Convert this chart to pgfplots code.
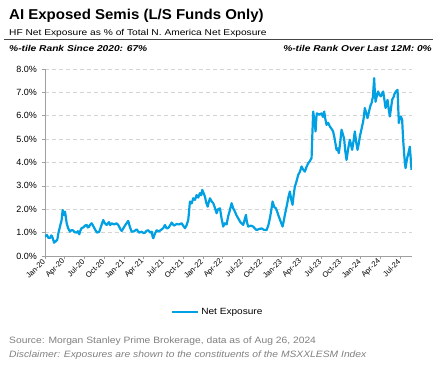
\documentclass[border=0pt]{standalone}
\usepackage{fontspec}
\setmainfont{Liberation Sans}
\newfontfamily\wideA[FakeStretch=1.2]{Liberation Sans}
\newfontfamily\wideB[FakeStretch=1.12]{Liberation Sans}
\newfontfamily\wideT[FakeStretch=1.05]{Liberation Sans}
\usepackage{pgfplots}
\pgfplotsset{compat=1.18}
\definecolor{netblue}{RGB}{0,160,227}
\definecolor{gridgray}{RGB}{212,212,212}
\definecolor{axisgray}{RGB}{160,160,160}
\definecolor{srcgray}{RGB}{128,128,128}
\definecolor{rulegray}{RGB}{70,70,70}

\pgfplotstableread{
m v
0.00 0.83
0.30 0.90
0.50 0.78
0.76 0.77
0.95 0.88
1.06 0.85
1.25 0.70
1.37 0.57
1.60 0.62
1.87 0.70
2.05 1.00
2.28 1.26
2.40 1.40
2.51 1.50
2.60 1.75
2.69 1.97
2.80 1.80
2.89 1.75
3.04 1.90
3.15 1.70
3.30 1.40
3.50 1.20
3.80 1.04
4.00 1.10
4.26 1.10
4.50 1.02
4.82 1.00
5.00 1.06
5.21 0.93
5.40 1.10
5.58 1.20
5.80 1.22
5.93 1.25
6.10 1.30
6.34 1.33
6.50 1.22
6.69 1.25
6.90 1.35
7.10 1.40
7.30 1.30
7.60 1.14
7.90 1.00
8.25 1.04
8.50 1.25
8.86 1.54
9.10 1.40
9.38 1.33
9.55 1.40
9.73 1.45
9.90 1.32
10.14 1.40
10.50 1.35
10.90 1.40
11.20 1.30
11.45 1.15
11.66 1.07
11.90 1.18
12.16 1.30
12.40 1.40
12.66 1.50
12.90 1.25
13.18 1.04
13.50 1.05
13.94 1.14
14.30 1.00
14.70 1.04
15.00 0.98
15.20 1.00
15.45 1.08
15.70 1.10
16.00 1.00
16.22 1.04
16.35 0.85
16.46 0.76
16.70 0.95
16.98 1.10
17.30 1.05
17.74 1.14
18.00 1.20
18.24 1.33
18.50 1.18
18.74 1.20
19.00 1.30
19.26 1.43
19.60 1.30
20.02 1.37
20.40 1.35
20.78 1.40
21.00 1.30
21.28 1.19
21.50 1.30
21.78 1.54
21.90 1.90
22.04 2.33
22.30 2.25
22.54 2.47
22.80 2.40
23.05 2.61
23.30 2.50
23.56 2.69
23.75 2.60
23.91 2.83
24.10 2.70
24.32 2.54
24.50 2.30
24.73 2.11
24.90 2.30
25.08 2.47
25.30 2.35
25.58 2.26
25.85 2.05
26.09 1.83
26.30 2.00
26.60 2.04
26.85 1.60
27.10 1.26
27.35 1.40
27.61 1.35
27.85 1.70
28.12 1.97
28.37 2.26
28.60 2.05
28.88 1.90
29.10 1.75
29.38 1.61
29.70 1.45
30.14 1.33
30.35 1.55
30.55 1.76
30.70 1.45
30.90 1.26
31.30 1.30
31.66 1.26
31.90 1.18
32.17 1.11
32.50 1.15
32.93 1.18
33.30 1.12
33.69 1.11
33.95 1.30
34.19 1.61
34.40 1.95
34.60 2.33
34.85 2.10
35.11 2.04
35.30 1.90
35.46 1.76
35.80 1.50
36.12 1.26
36.30 1.50
36.47 1.76
36.80 2.20
37.00 2.50
37.23 2.76
37.45 2.40
37.64 2.19
37.80 2.60
37.99 2.97
38.25 3.20
38.50 3.47
38.75 3.60
39.01 3.83
39.25 3.70
39.51 3.61
39.75 3.80
40.01 3.97
40.25 4.05
40.53 4.19
40.65 5.20
40.78 6.18
40.95 5.80
41.14 5.33
41.25 5.90
41.34 6.10
41.70 6.05
42.05 6.10
42.25 5.95
42.45 6.18
42.60 5.90
42.81 5.61
43.05 5.70
43.31 5.54
43.55 5.45
43.81 5.33
44.05 5.00
44.33 4.54
44.50 4.60
44.68 4.40
44.90 4.90
45.09 5.40
45.30 5.20
45.49 5.00
45.65 4.50
45.85 4.11
46.10 4.60
46.35 4.97
46.50 4.80
46.70 4.54
46.90 4.90
47.11 5.33
47.30 4.90
47.52 4.54
47.70 4.80
47.87 5.11
48.10 5.40
48.37 5.75
48.50 6.00
48.63 6.33
48.85 6.10
49.04 5.90
49.20 6.10
49.39 6.33
49.50 6.45
49.65 6.54
49.85 6.80
50.05 7.61
50.15 7.00
50.26 6.60
50.45 6.85
50.65 7.04
50.85 6.90
51.06 6.83
51.25 6.95
51.41 7.04
51.60 6.70
51.78 6.33
51.95 6.50
52.08 6.68
52.25 6.30
52.43 5.97
52.60 6.30
52.78 6.68
53.00 6.80
53.19 6.97
53.40 7.05
53.60 7.11
53.70 6.40
53.80 5.69
53.95 5.90
54.10 5.97
54.20 5.90
54.30 5.83
54.45 5.00
54.60 4.40
54.72 4.00
54.82 3.76
54.95 4.00
55.12 4.25
55.30 4.45
55.47 4.68
55.60 4.20
55.73 3.68
}\netexp

\begin{document}
\begin{tikzpicture}
\path[use as bounding box] (0pt,0pt) rectangle (440pt,-368pt);
% header
\node[anchor=base west, inner sep=0, font=\wideT\fontsize{14.3}{16}\selectfont\bfseries] at (9pt,-19.3pt) {AI Exposed Semis (L/S Funds Only)};
\node[anchor=base west, inner sep=0, font=\wideA\fontsize{8.5}{10}\selectfont] at (9pt,-35pt) {HF Net Exposure as \% of Total N. America Net Exposure};
\draw[rulegray, line width=1.2pt] (4pt,-39.7pt) -- (433pt,-39.7pt);
\node[anchor=base west, inner sep=0, font=\wideA\fontsize{8.5}{10}\selectfont\bfseries\itshape] at (9pt,-51.3pt) {\%-tile Rank Since 2020: 67\%};
\node[anchor=base east, inner sep=0, font=\wideA\fontsize{8.5}{10}\selectfont\bfseries\itshape] at (432pt,-51.3pt) {\%-tile Rank Over Last 12M: 0\%};
% footer
\node[anchor=base west, inner sep=0, text=srcgray, font=\wideB\fontsize{9.2}{10}\selectfont] at (9pt,-343pt) {Source: Morgan Stanley Prime Brokerage, data as of Aug 26, 2024};
\node[anchor=base west, inner sep=0, text=srcgray, font=\wideB\fontsize{9.2}{10}\selectfont\itshape] at (9pt,-357.5pt) {Disclaimer: Exposures are shown to the constituents of the MSXXLESM Index};

\begin{axis}[
  at={(45pt,-256pt)}, anchor=south west,
  scale only axis, width=367pt, height=187pt,
  xmin=0, xmax=55.8, ymin=0, ymax=8,
  axis x line*=bottom, axis y line*=left,
  axis line style={axisgray, line width=0.8pt},
  tick style={axisgray, line width=0.6pt},
  tick align=outside, major tick length=3.3pt,
  xtick={0,3,...,54},
  xticklabels={Jan-20,Apr-20,Jul-20,Oct-20,Jan-21,Apr-21,Jul-21,Oct-21,Jan-22,Apr-22,Jul-22,Oct-22,Jan-23,Apr-23,Jul-23,Oct-23,Jan-24,Apr-24,Jul-24},
  xticklabel style={rotate=45, anchor=east, font=\fontsize{7.6}{9}\selectfont, inner sep=1.5pt},
  ytick={0,1,...,8},
  yticklabel={\pgfmathprintnumber[fixed,fixed zerofill,precision=1]{\tick}\%},
  yticklabel style={font=\fontsize{9}{10}\selectfont, inner sep=1.5pt, xshift=-3pt},
  /pgf/number format/assume math mode=true,
  ymajorgrids,
  grid style={gridgray, line width=0.7pt, dash pattern=on 4pt off 3pt},
  legend style={at={(0.471,-0.30)}, anchor=center, draw=none, fill=none,
    font=\wideB\fontsize{9}{10}\selectfont, inner sep=0pt},
  legend image code/.code={\draw[#1, line width=2pt] (0pt,0pt) -- (26pt,0pt);},
  legend cell align=left,
]
\addplot[netblue, line width=2.2pt, line join=round] table[x=m, y=v] {\netexp};
\addlegendentry{Net Exposure}
\end{axis}
\end{tikzpicture}
\end{document}
